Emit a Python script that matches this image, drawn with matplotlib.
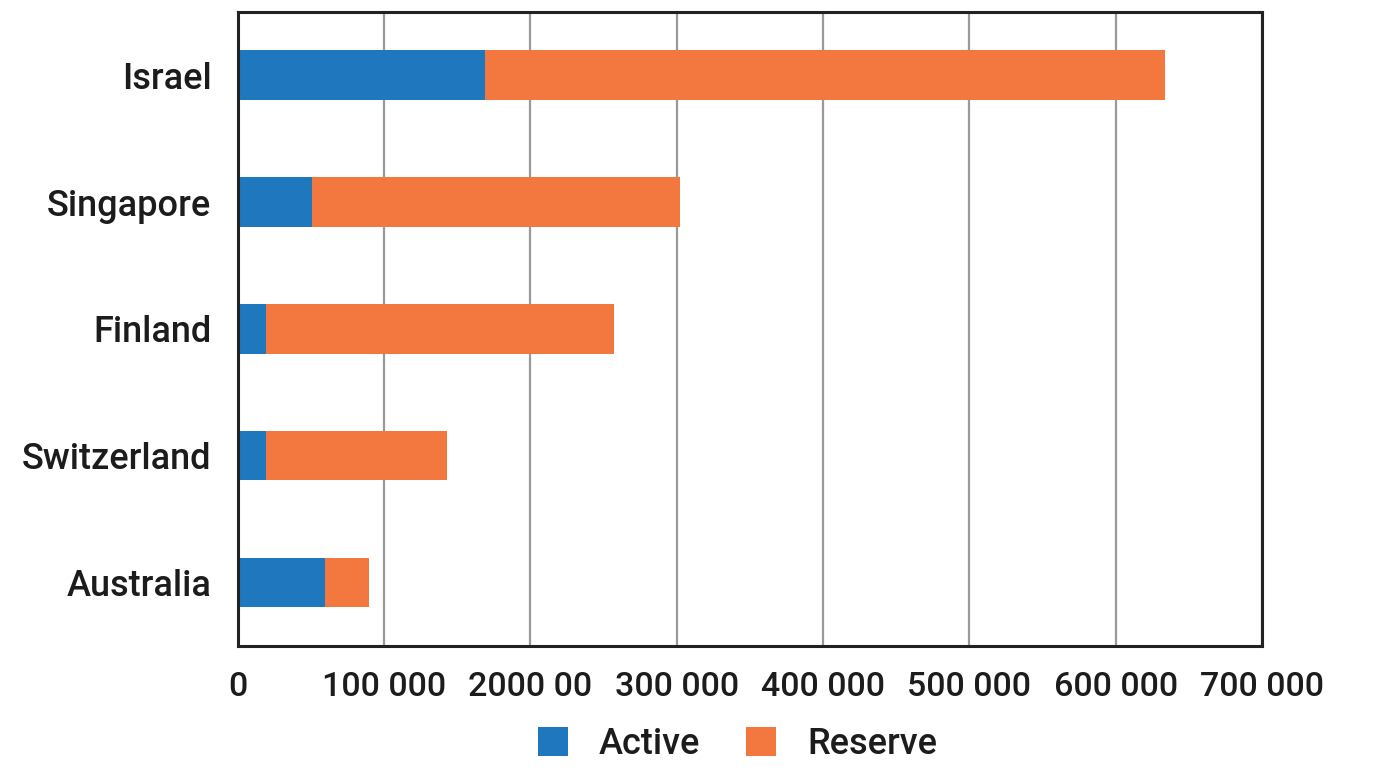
import matplotlib
matplotlib.use("Agg")
import matplotlib.pyplot as plt

countries = ['Israel', 'Singapore', 'Finland', 'Switzerland', 'Australia']
active = [169000, 51000, 19000, 19000, 59500]
reserve = [465000, 251000, 238000, 124000, 30000]
tick_values = [0, 100000, 200000, 300000, 400000, 500000, 600000, 700000]
tick_labels = ['0', '100 000', '2000 00', '300 000', '400 000', '500 000', '600 000', '700 000']

plt.rcParams['font.family'] = ['Roboto', 'DejaVu Sans']
text_color = '#1c1c1c'

fig = plt.figure(figsize=(13.99, 7.84), dpi=100)
ax = fig.add_axes([0.170, 0.176, 0.732, 0.809])

y = list(range(len(countries)))
ax.barh(y, active, height=0.39, color='#1f78be', label='Active', zorder=3)
ax.barh(y, reserve, left=active, height=0.39, color='#f37840', label='Reserve', zorder=3)

ax.set_xlim(0, 700000)
ax.set_ylim(len(countries) - 0.5, -0.5)
ax.set_yticks(y)
ax.set_yticklabels(countries)
ax.set_xticks(tick_values)
ax.set_xticklabels(tick_labels)

ax.tick_params(axis='both', length=0, colors=text_color)
ax.tick_params(axis='x', pad=18, labelsize=24.5)
ax.tick_params(axis='y', pad=19, labelsize=26)
for lbl in ax.get_xticklabels() + ax.get_yticklabels():
    lbl.set_fontweight('medium')

ax.grid(axis='x', color='#999999', linewidth=1.6, zorder=0)
ax.grid(axis='y', visible=False)
for s in ax.spines.values():
    s.set_color('#222222')
    s.set_linewidth(2.2)
    s.set_zorder(4)

leg = fig.legend(loc='center', bbox_to_anchor=(0.527, 0.050), ncol=2, frameon=False,
                 handlelength=0.85, handleheight=0.85, handletextpad=0.85, columnspacing=1.25,
                 prop={'size': 26, 'weight': 'medium'})
for t in leg.get_texts():
    t.set_color(text_color)

fig.savefig('out.png', dpi=100)
